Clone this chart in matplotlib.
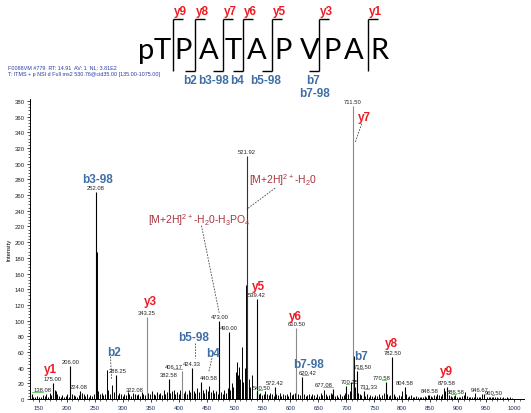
import matplotlib
matplotlib.use('Agg')
import matplotlib.pyplot as plt
from matplotlib import font_manager
from matplotlib.ticker import MultipleLocator

plt.rcParams['font.family'] = ['Liberation Sans', 'DejaVu Sans']
plt.rcParams['mathtext.default'] = 'regular'

# ---------------- data ----------------
labeled_mz = [138.08, 175.00, 206.00, 224.08, 252.08, 288.25, 322.08, 343.25, 382.58,
              406.17, 424.33, 440.58, 473.00, 490.00, 521.92, 539.42, 540.50, 572.42,
              610.50, 620.42, 677.08, 700.25, 711.50, 718.50, 731.33, 770.58, 782.50,
              804.58, 848.58, 879.58, 886.58, 946.67, 960.50]
labeled_int = [7, 20, 42, 10, 264, 30, 7, 104, 25,
               36, 40, 22, 100, 85, 310, 127, 9, 15,
               91, 28, 13, 17, 374, 36, 10, 22, 54,
               15, 5, 15, 4, 7, 3]
label_dx = [10.5, 0, 0, -2, 0, 1.5, 0, 0, 0,
            -8.6, 0, 7, 0, 0, 0, 0, 5, 0,
            0, 6, -10, 3, 0, 6.6, 5, -4, 0,
            0, 0, 0, 5, -4, 2]
label_green = [1, 0, 0, 0, 0, 0, 0, 0, 0,
               1, 0, 0, 0, 0, 0, 0, 1, 0,
               0, 1, 1, 1, 0, 1, 1, 1, 0,
               0, 0, 0, 1, 0, 1]
grey_peaks = [343.25, 406.17, 610.50, 711.50]

other_mz = [140, 143, 146, 150, 153, 157, 160, 163, 166, 169, 172, 178, 180, 183, 186, 189,
            192, 195, 198, 201, 203, 209, 212, 215, 218, 221, 227, 230, 233, 236, 239, 242,
            245, 248, 253.1, 256, 259, 262, 265, 268, 271.5, 274, 277, 281, 284, 291, 294, 297,
            300, 303, 306, 309, 312, 315, 318, 325, 328, 331, 334, 337, 340, 346, 349, 352,
            355, 358, 361, 364, 367, 370, 373, 376, 379, 385, 388, 391, 394, 397, 400, 403,
            409, 412, 415, 418, 421, 427, 430, 433, 436, 443, 446, 449, 452, 455, 458, 461,
            464, 467, 470, 476, 479, 482, 485, 488, 492, 495, 498, 502, 504, 506, 508, 510,
            512.5, 514, 516, 518, 520.5, 523, 525, 528, 531.5, 543, 546, 549, 552, 555, 558,
            561, 564, 567, 570, 575, 578, 581, 584, 587, 590, 593, 596, 599, 602, 605, 608,
            614, 617, 624, 627, 630, 633, 636, 639, 642, 645, 648, 651, 654, 657, 660, 663,
            666, 669, 672, 675, 680, 683, 686, 689, 692, 695, 698, 703, 706, 709, 712.5, 713.5,
            714.5, 716, 721, 724, 727, 734, 737, 740, 743, 746, 749, 752, 755, 758, 761, 764,
            767, 773, 776, 779, 785, 788, 791, 794, 797, 800, 807, 810, 813, 816, 819, 822,
            825, 828, 831, 834, 837, 840, 843, 846, 851, 854, 857, 860, 863, 866, 869, 872,
            875, 877, 883, 889, 892, 895, 898, 901, 904, 907, 910, 913, 916, 919, 922, 925,
            928, 931, 934, 937, 940, 943, 952, 955, 958, 963, 966, 969, 972, 975, 978, 981,
            984, 987, 990, 993, 996]
other_int = [3, 2, 4, 2, 3, 5, 4, 6, 3, 8, 5, 12, 10, 6, 4, 3,
             5, 2, 4, 6, 3, 7, 5, 4, 3, 5, 8, 6, 4, 7, 3, 5,
             4, 6, 187, 10, 6, 8, 5, 7, 37, 12, 6, 18, 9, 5, 8, 6,
             4, 7, 5, 9, 6, 4, 8, 5, 7, 4, 9, 6, 5, 8, 6, 10,
             7, 5, 9, 6, 8, 5, 11, 7, 9, 8, 10, 12, 7, 9, 6, 11,
             8, 10, 7, 12, 9, 10, 8, 14, 9, 11, 8, 13, 10, 16, 9, 12,
             8, 10, 7, 9, 6, 11, 8, 14, 12, 20, 15, 35, 47, 30, 41, 25,
             66, 35, 22, 40, 145, 60, 25, 15, 30, 6, 8, 5, 7, 10, 6,
             5, 8, 6, 4, 7, 5, 8, 4, 6, 5, 7, 4, 9, 5, 6, 8,
             7, 5, 6, 4, 5, 6, 4, 7, 5, 3, 6, 4, 8, 5, 12, 6,
             4, 5, 8, 6, 4, 5, 3, 6, 4, 5, 8, 6, 10, 22, 86, 55,
             25, 15, 8, 6, 5, 4, 6, 3, 5, 4, 3, 5, 4, 6, 3, 5,
             8, 6, 4, 5, 6, 4, 3, 5, 4, 10, 6, 3, 4, 5, 3, 2,
             4, 3, 2, 3, 2, 4, 3, 5, 4, 3, 5, 4, 6, 5, 4, 6,
             14, 10, 5, 3, 4, 5, 3, 2, 3, 4, 5, 9, 4, 2, 3, 2,
             3, 8, 2, 3, 2, 6, 3, 2, 3, 2, 3, 2, 1, 2, 1, 2,
             1, 2, 1, 2, 1]

# spectrum ion annotations (text, kind, m/z position, intensity position)
ion_text = ['y1', 'b3-98', 'b2', 'y3', 'b5-98', 'b4', 'y5', 'y6', 'b7-98', 'y7', 'b7', 'y8', 'y9']
ion_kind = ['y', 'b', 'b', 'y', 'b', 'b', 'y', 'y', 'b', 'y', 'b', 'y', 'y']
ion_x = [170, 254, 285, 349, 427, 461, 543, 609, 633, 732, 726, 780, 880]
ion_y = [38, 281, 60, 125, 79, 59, 144, 106, 44, 360, 55, 72, 36]

prec_text = [r'[M+2H]$^{2+}$-H$_2$0-H$_3$PO$_4$', r'[M+2H]$^{2+}$-H$_2$0']
prec_x = [437, 586]
prec_y = [229.5, 280.5]

dash_x0 = [278, 428.5, 459.6, 440.8, 572.7, 727.5]
dash_y0 = [54, 72, 52, 221, 269, 351]
dash_x1 = [280, 428.5, 453.7, 472.5, 522, 716]
dash_y1 = [25.5, 52, 34, 110, 242, 327]

# peptide sequence header (pixel layout)
residues = list('pTPATAPVPAR')
residue_px = [146, 162, 183.5, 209, 233.5, 257, 283, 309.5, 332, 354, 379.5]
bracket_px = [172.7, 195, 223.3, 242.7, 271.7, 319.3, 368.3]
bracket_y_lab = ['y9', 'y8', 'y7', 'y6', 'y5', 'y3', 'y1']
bracket_has_b = [False, True, True, True, True, True, False]
b_lab = ['b2', 'b3-98', 'b4', 'b5-98', 'b7', 'b7-98']
b_lab_px = [190, 214, 237, 266, 313, 315]
b_lab_py = [81, 81, 81, 81, 81, 94]

RED = '#ee1c24'
BLUE = '#3f6ea6'
PREC = '#a8343f'

installed = {f.name for f in font_manager.fontManager.ttflist}
if 'Liberation Sans Narrow' in installed:
    seq_family, seq_size = 'Liberation Sans Narrow', 25
else:
    seq_family, seq_size = 'Lato', 21

# ---------------- figure ----------------
W, H = 531, 414
fig = plt.figure(figsize=(W / 100, H / 100), dpi=100)

xmin, xmax = 134.0, 1018.0
ymin, ymax = 0.0, 382.0
ax = fig.add_axes([30 / W, 14 / H, 494 / W, 299.6 / H])
ax.set_xlim(xmin, xmax)
ax.set_ylim(ymin, ymax)

pxx = (xmax - xmin) / 494.0  # data units per pixel (x)
pxy = (ymax - ymin) / 299.6  # data units per pixel (y)

ax.vlines(other_mz, 0, other_int, color='black', lw=0.7, zorder=2)
cols = ['#8a8a8a' if m in grey_peaks else ('#333333' if m == 521.92 else 'black') for m in labeled_mz]
ax.vlines(labeled_mz, 0, labeled_int, colors=cols, lw=0.8, zorder=3)

for m, i, dx, g in zip(labeled_mz, labeled_int, label_dx, label_green):
    lx = m + dx * pxx
    ly = i + 2.0 * pxy
    ax.text(lx, ly, f'{m:.2f}', fontsize=4.2, color='#222222', ha='center', va='bottom',
            clip_on=False, zorder=5)
    if g:
        ax.plot([m, lx], [ly, ly], color='#5cc35c', lw=0.6, clip_on=False, zorder=4)

for t, k, x, y in zip(ion_text, ion_kind, ion_x, ion_y):
    ax.text(x, y, t, fontsize=8.5, fontweight='bold', color=RED if k == 'y' else BLUE,
            ha='center', va='center', clip_on=False, zorder=6)

for t, x, y in zip(prec_text, prec_x, prec_y):
    ax.text(x, y, t, fontsize=7.5, color=PREC, ha='center', va='center', zorder=6)

for x0, y0, x1, y1 in zip(dash_x0, dash_y0, dash_x1, dash_y1):
    ax.plot([x0, x1], [y0, y1], color='#444444', lw=0.6, ls=(0, (2, 1.5)), zorder=4)

for s in ['top', 'right']:
    ax.spines[s].set_visible(False)
for s in ['left', 'bottom']:
    ax.spines[s].set_linewidth(0.7)
ax.xaxis.set_major_locator(MultipleLocator(50))
ax.xaxis.set_minor_locator(MultipleLocator(10))
ax.yaxis.set_major_locator(MultipleLocator(20))
ax.yaxis.set_minor_locator(MultipleLocator(4))
ax.set_xticks([v for v in range(150, 1001, 50)])
ax.tick_params(axis='both', which='major', labelsize=4.3, length=2.5, width=0.6,
               colors='#222222', pad=1.5)
ax.tick_params(axis='both', which='minor', length=1.3, width=0.5, colors='#222222')
ax.tick_params(axis='x', labelcolor='#1f2a5a')
ax.set_ylabel('Intensity', fontsize=4.2, labelpad=2)
ax.set_xlabel('m/z (amu)', fontsize=4.2, labelpad=3)

# ---------------- pixel overlay ----------------
ov = fig.add_axes([0, 0, 1, 1], zorder=10)
ov.set_xlim(0, W)
ov.set_ylim(H, 0)
ov.axis('off')
ov.patch.set_alpha(0)

ov.text(8, 68, 'F0088VM #779  RT: 14.91  AV: 1  NL: 3.81E2', fontsize=3.9,
        color='#2b3a9e', ha='left', va='center')
ov.text(8, 74.5, 'T: ITMS + p NSI d Full ms2 530.76@cid35.00 [135.00-1075.00]', fontsize=3.9,
        color='#2b3a9e', ha='left', va='center')

for r, x in zip(residues, residue_px):
    ov.text(x, 59, r, fontsize=seq_size, family=[seq_family, 'DejaVu Sans'], color='black',
            ha='center', va='baseline')

hook = 10
for x, lab, hb in zip(bracket_px, bracket_y_lab, bracket_has_b):
    ov.plot([x, x], [20, 72], color='black', lw=1.0, solid_capstyle='butt')
    ov.plot([x, x + hook], [20, 20], color='black', lw=1.0, solid_capstyle='butt')
    if hb:
        ov.plot([x - hook, x], [72, 72], color='black', lw=1.0, solid_capstyle='butt')
    ov.text(x + 7.3, 12.5, lab, fontsize=8.5, fontweight='bold', color=RED,
            ha='center', va='center')

for lab, x, y in zip(b_lab, b_lab_px, b_lab_py):
    ov.text(x, y, lab, fontsize=8.5, fontweight='bold', color=BLUE, ha='center', va='center')

fig.savefig('out.png', dpi=100)
